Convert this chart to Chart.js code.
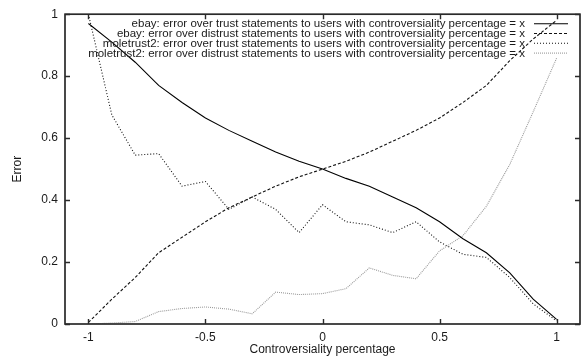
<!DOCTYPE html>
<html>
<head>
<meta charset="utf-8">
<script src="https://cdn.jsdelivr.net/npm/chart.js@4/dist/chart.umd.min.js"></script>
<style>
  html, body { margin: 0; padding: 0; background: #fff; }
  #wrap { width: 583px; height: 358px; }
</style>
</head>
<body>
<div id="wrap"><canvas id="c" width="583" height="358"></canvas></div>
<script>
const xValues = [-1, -0.9, -0.8, -0.7, -0.6, -0.5, -0.4, -0.3, -0.2, -0.1, 0, 0.1, 0.2, 0.3, 0.4, 0.5, 0.6, 0.7, 0.8, 0.9, 1];
const ebayTrust = [0.97, 0.91, 0.845, 0.77, 0.715, 0.665, 0.625, 0.59, 0.555, 0.525, 0.5, 0.47, 0.445, 0.41, 0.375, 0.33, 0.275, 0.23, 0.165, 0.08, 0.015];
const ebayDistrust = [0.005, 0.08, 0.15, 0.23, 0.28, 0.33, 0.375, 0.41, 0.445, 0.475, 0.5, 0.525, 0.555, 0.59, 0.625, 0.665, 0.715, 0.77, 0.85, 0.92, 0.98];
const moleTrust = [1.0, 0.675, 0.545, 0.55, 0.445, 0.46, 0.37, 0.41, 0.37, 0.295, 0.385, 0.33, 0.32, 0.295, 0.33, 0.265, 0.225, 0.215, 0.15, 0.065, 0.01];
const moleDistrust = [0.0, 0.003, 0.008, 0.04, 0.05, 0.055, 0.048, 0.033, 0.103, 0.095, 0.098, 0.114, 0.181, 0.157, 0.146, 0.236, 0.285, 0.38, 0.515, 0.685, 0.858];
const seriesLabels = [
  "ebay: error over trust statements to users with controversiality percentage = x",
  "ebay: error over distrust statements to users with controversiality percentage = x",
  "moletrust2: error over trust statements to users with controversiality percentage = x",
  "moletrust2: error over distrust statements to users with controversiality percentage = x"
];
const xTicks = [-1, -0.5, 0, 0.5, 1];
const yTicks = [0, 0.2, 0.4, 0.6, 0.8, 1];
const xTitle = "Controversiality percentage";
const yTitle = "Error";

const FONT = "'Liberation Sans', Arial, Helvetica, sans-serif";
const TEXT = "#1a1a1a";

function pts(ys) { return xValues.map((x, i) => ({ x: x, y: ys[i] })); }

const styles = [
  { borderColor: "#000", borderWidth: 1.1, borderDash: [] },
  { borderColor: "#111", borderWidth: 1.1, borderDash: [3, 2] },
  { borderColor: "#111", borderWidth: 1.1, borderDash: [1, 2] },
  { borderColor: "#9a9a9a", borderWidth: 1.1, borderDash: [1, 1] }
];
const seriesData = [ebayTrust, ebayDistrust, moleTrust, moleDistrust];

const datasets = seriesData.map((d, i) => Object.assign({
  label: seriesLabels[i],
  data: pts(d),
  pointRadius: 0,
  tension: 0,
  fill: false
}, styles[i]));

const framePlugin = {
  id: "frame",
  afterDatasetsDraw(chart) {
    const ctx = chart.ctx;
    const a = chart.chartArea;
    const xs = chart.scales.x, ys = chart.scales.y;
    ctx.save();
    // legend
    ctx.font = "11.5px " + FONT;
    ctx.textAlign = "right";
    ctx.textBaseline = "middle";
    chart.data.datasets.forEach((ds, i) => {
      const y = a.top + 9.5 + i * 9.8;
      ctx.fillStyle = TEXT;
      ctx.fillText(ds.label, a.right - 55, y + 0.5);
      ctx.beginPath();
      ctx.strokeStyle = ds.borderColor;
      ctx.lineWidth = ds.borderWidth;
      ctx.setLineDash(ds.borderDash || []);
      ctx.moveTo(a.right - 46, y);
      ctx.lineTo(a.right - 12, y);
      ctx.stroke();
    });
    ctx.setLineDash([]);
    // frame
    ctx.strokeStyle = "#2a2a2a";
    ctx.lineWidth = 1.7;
    ctx.strokeRect(a.left, a.top, a.right - a.left, a.bottom - a.top);
    // ticks (inward, mirrored)
    ctx.lineWidth = 1.4;
    ctx.beginPath();
    xTicks.forEach(v => {
      const px = Math.round(xs.getPixelForValue(v)) + 0.5;
      ctx.moveTo(px, a.bottom); ctx.lineTo(px, a.bottom - 5);
      ctx.moveTo(px, a.top); ctx.lineTo(px, a.top + 5);
    });
    yTicks.forEach(v => {
      const py = Math.round(ys.getPixelForValue(v)) + 0.5;
      ctx.moveTo(a.left, py); ctx.lineTo(a.left + 5, py);
      ctx.moveTo(a.right, py); ctx.lineTo(a.right - 5, py);
    });
    ctx.stroke();
    ctx.restore();
  }
};

new Chart(document.getElementById("c"), {
  type: "line",
  data: { datasets: datasets },
  options: {
    responsive: false,
    animation: false,
    events: [],
    layout: { padding: { top: 11, right: 3, left: 0, bottom: 0 } },
    plugins: { legend: { display: false }, tooltip: { enabled: false } },
    scales: {
      x: {
        type: "linear",
        min: -1.1,
        max: 1.1,
        afterBuildTicks: s => { s.ticks = xTicks.map(v => ({ value: v })); },
        afterFit: s => { s.height = 34; },
        grid: { display: false, drawTicks: false },
        border: { display: false },
        ticks: {
          padding: 6,
          maxRotation: 0,
          autoSkip: false,
          color: TEXT,
          font: { family: FONT, size: 12 },
          callback: v => String(v)
        },
        title: {
          display: true,
          text: xTitle,
          color: TEXT,
          font: { family: FONT, size: 12 },
          padding: { top: 0, bottom: 1 }
        }
      },
      y: {
        type: "linear",
        min: 0,
        max: 1,
        afterBuildTicks: s => { s.ticks = yTicks.map(v => ({ value: v })); },
        afterFit: s => { s.width = 65; },
        grid: { display: false, drawTicks: false },
        border: { display: false },
        ticks: {
          padding: 7,
          autoSkip: false,
          color: TEXT,
          font: { family: FONT, size: 12 },
          callback: v => String(v)
        },
        title: {
          display: true,
          text: yTitle,
          color: TEXT,
          font: { family: FONT, size: 12 },
          padding: { top: 10, bottom: 0 }
        }
      }
    }
  },
  plugins: [framePlugin]
});
</script>
</body>
</html>
